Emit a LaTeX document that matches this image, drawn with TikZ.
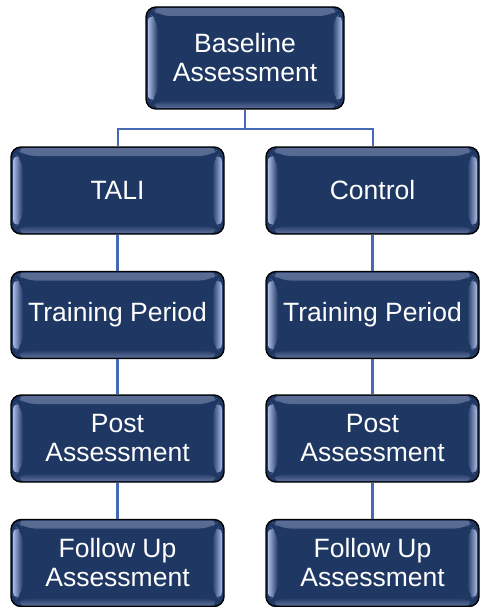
\documentclass[tikz,border=0pt]{standalone}
\usepackage{fontspec}
\setmainfont{Liberation Sans}
\usetikzlibrary{calc}
\definecolor{navy}{RGB}{31,55,99}
\definecolor{hl}{RGB}{170,186,228}
\definecolor{edgehl}{RGB}{92,110,150}
\definecolor{conn}{RGB}{70,106,182}
\tikzset{
  box/.style={draw=black, line width=1.4pt, rounded corners=10pt, fill=navy,
    text=white, align=center, inner sep=0pt,
    font=\fontsize{26.5}{29}\selectfont,
    path picture={
      \shade[top color=edgehl, bottom color=navy]
        ($(path picture bounding box.north west)+(4pt,-1pt)$) --
        ($(path picture bounding box.north east)+(-4pt,-1pt)$) --
        ($(path picture bounding box.north east)+(-14pt,-9pt)$) --
        ($(path picture bounding box.north west)+(14pt,-9pt)$) -- cycle;
      \shade[bottom color=edgehl, top color=navy]
        ($(path picture bounding box.south west)+(4pt,1pt)$) --
        ($(path picture bounding box.south east)+(-4pt,1pt)$) --
        ($(path picture bounding box.south east)+(-14pt,9pt)$) --
        ($(path picture bounding box.south west)+(14pt,9pt)$) -- cycle;
      \shade[left color=hl, right color=navy]
        ($(path picture bounding box.north west)+(2pt,-5pt)$) --
        ($(path picture bounding box.north west)+(12pt,-14pt)$) --
        ($(path picture bounding box.south west)+(12pt,14pt)$) --
        ($(path picture bounding box.south west)+(2pt,5pt)$) -- cycle;
      \shade[right color=hl, left color=navy]
        ($(path picture bounding box.north east)+(-2pt,-5pt)$) --
        ($(path picture bounding box.north east)+(-12pt,-14pt)$) --
        ($(path picture bounding box.south east)+(-12pt,14pt)$) --
        ($(path picture bounding box.south east)+(-2pt,5pt)$) -- cycle;
    }},
  wide/.style={box, minimum width=213pt, minimum height=87pt},
  link/.style={draw=conn, line width=2.8pt},
  thinlink/.style={draw=conn, line width=2pt}
}
\begin{document}
\begin{tikzpicture}[x=1pt,y=-1pt]
\useasboundingbox[fill=white] (0,0) rectangle (480,607);
\node[box, minimum width=198pt, minimum height=102pt] (base) at (245,58) {Baseline\\Assessment};
\node[wide] (tali) at (117.5,190.5) {TALI};
\node[wide] (ctrl) at (372.5,190.5) {Control};
\node[wide] (tr1) at (117.5,315) {Training Period};
\node[wide] (tr2) at (372.5,315) {Training Period};
\node[wide] (po1) at (117.5,438.5) {Post\\Assessment};
\node[wide] (po2) at (372.5,438.5) {Post\\Assessment};
\node[wide] (fu1) at (117.5,563) {Follow Up\\Assessment};
\node[wide] (fu2) at (372.5,563) {Follow Up\\Assessment};
\coordinate (split) at (245,129);
\draw[thinlink] (base.south) -- (split);
\draw[thinlink] (split) -| (tali.north);
\draw[thinlink] (split) -| (ctrl.north);
\draw[link] (tali.south) -- (tr1.north);
\draw[link] (tr1.south) -- (po1.north);
\draw[link] (po1.south) -- (fu1.north);
\draw[link] (ctrl.south) -- (tr2.north);
\draw[link] (tr2.south) -- (po2.north);
\draw[link] (po2.south) -- (fu2.north);
\end{tikzpicture}
\end{document}
